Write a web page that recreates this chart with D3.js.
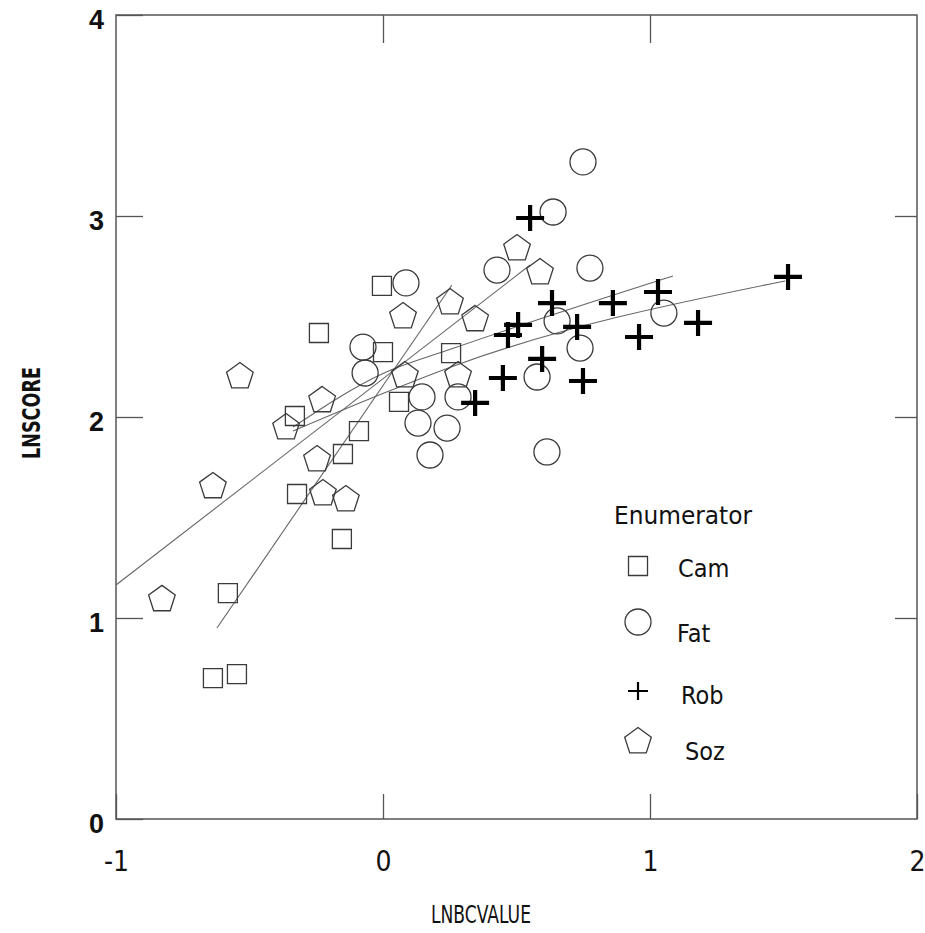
<html>
<head>
<title>LNSCORE vs LNBCVALUE</title>
<script src="https://d3js.org/d3.v7.min.js" charset="utf-8"></script>
<style>
body { margin: 0; background: white; }
svg text { fill: #111; }
.ytick text { font-family: "Liberation Sans", Arial, sans-serif; font-weight: bold; font-size: 27px; }
.xtick text { font-family: "DejaVu Sans Condensed", sans-serif; font-size: 28px; }
</style>
</head>
<body>
<script>
// enumerator groups: x = LNBCVALUE, y = LNSCORE
var camX = [-0.004, -0.240, 0.000, 0.255, 0.060, -0.330, -0.090, -0.150, -0.322, -0.154, -0.581, -0.637, -0.547];
var camY = [2.652, 2.418, 2.323, 2.318, 2.075, 2.005, 1.930, 1.816, 1.617, 1.393, 1.124, 0.701, 0.721];

var fatX = [0.749, 0.637, 0.086, 0.427, 0.775, 1.052, 0.652, 0.738, 0.577, 0.614, -0.075, -0.067, 0.146, 0.281, 0.131, 0.240, 0.176];
var fatY = [3.269, 3.020, 2.667, 2.731, 2.741, 2.517, 2.478, 2.343, 2.199, 1.826, 2.348, 2.219, 2.100, 2.100, 1.970, 1.945, 1.811];

var robX = [0.551, 0.633, 0.506, 0.468, 0.861, 1.030, 0.727, 0.596, 0.449, 0.749, 0.345, 0.959, 1.180, 1.517];
var robY = [2.990, 2.567, 2.458, 2.408, 2.567, 2.622, 2.448, 2.289, 2.194, 2.179, 2.070, 2.398, 2.468, 2.697];

var sozX = [-0.536, -0.228, -0.363, -0.247, -0.225, -0.139, -0.637, -0.828, 0.075, 0.345, 0.251, 0.082, 0.281, 0.502, 0.588];
var sozY = [2.209, 2.090, 1.955, 1.796, 1.627, 1.597, 1.662, 1.100, 2.507, 2.493, 2.577, 2.214, 2.214, 2.846, 2.726];

// fitted lines per enumerator
var camFitX = [-0.622, 0.258];
var camFitY = [0.950, 2.657];
var sozFitX = [-1.0, 0.551];
var sozFitY = [1.164, 2.756];
var fatFitX = [-0.337, 0.004, 0.255, 1.086];
var fatFitY = [1.950, 2.219, 2.338, 2.701];
var robFitX = [-0.337, 0.004, 0.255, 1.506];
var robFitY = [1.930, 2.119, 2.249, 2.677];

var xTicks = [-1, 0, 1, 2];
var yTicks = [0, 1, 2, 3, 4];
var legendNames = ["Cam", "Fat", "Rob", "Soz"];

var width = 925;
var height = 933;

var x = d3.scaleLinear().domain([-1, 2]).range([116, 917]);
var y = d3.scaleLinear().domain([0, 4]).range([819, 15]);

var svg = d3.select("body")
  .append("svg")
  .attr("width", width)
  .attr("height", height);

var markColor = "#3a3a3a";

// marker shapes
function pentagon(r) {
  var pts = d3.range(5).map(function(i) {
    var a = -Math.PI / 2 + i * 2 * Math.PI / 5;
    return [r * Math.cos(a), r * Math.sin(a) + 1.5];
  });
  return "M" + pts.join("L") + "Z";
}
var squarePath = d3.symbol().type(d3.symbolSquare).size(19 * 19)();
var circlePath = d3.symbol().type(d3.symbolCircle).size(Math.PI * 13 * 13)();
var crossPath = "M-14,0H14M0,-13V13";
var smallCross = "M-10,0H10M0,-9V9";
var pentPath = pentagon(14);

function zip(xs, ys) { return xs.map(function(v, i) { return [v, ys[i]]; }); }

// frame
svg.append("rect")
  .attr("x", x(-1)).attr("y", y(4))
  .attr("width", x(2) - x(-1)).attr("height", y(0) - y(4))
  .attr("fill", "none")
  .attr("stroke", "#555")
  .attr("stroke-width", 1.5);

// axes with inward ticks
var yAxis = svg.append("g").attr("class", "ytick")
  .attr("transform", "translate(" + x(-1) + ",5)")
  .call(d3.axisLeft(y).tickValues(yTicks).tickSize(-27).tickSizeOuter(0).tickPadding(12).tickFormat(d3.format("d")));
yAxis.selectAll("line").attr("transform", "translate(0,-5)");
yAxis.select(".domain").remove();

var xAxis = svg.append("g").attr("class", "xtick")
  .attr("transform", "translate(0," + y(0) + ")")
  .call(d3.axisBottom(x).tickValues(xTicks).tickSize(-25).tickSizeOuter(0).tickPadding(32)
    .tickFormat(function(d) { return String(d); }));
xAxis.select(".domain").remove();

svg.append("g")
  .attr("transform", "translate(" + x(2) + ",0)")
  .call(d3.axisRight(y).tickValues([1, 2, 3]).tickSize(-22).tickSizeOuter(0).tickFormat(""))
  .select(".domain").remove();

svg.append("g")
  .attr("transform", "translate(0," + y(4) + ")")
  .call(d3.axisTop(x).tickValues([0, 1]).tickSize(-28).tickSizeOuter(0).tickFormat(""))
  .select(".domain").remove();

svg.selectAll(".tick line").attr("stroke", "#555").attr("stroke-width", 1.3);
svg.selectAll(".tick text").attr("fill", "#111");

// axis titles
svg.append("text")
  .attr("x", 481).attr("y", 923)
  .attr("text-anchor", "middle")
  .attr("textLength", 100).attr("lengthAdjust", "spacingAndGlyphs")
  .style("font-family", "'DejaVu Sans Condensed', sans-serif")
  .style("font-size", "24px")
  .text("LNBCVALUE");

svg.append("text")
  .attr("transform", "translate(40,413) rotate(-90)")
  .attr("text-anchor", "middle")
  .attr("textLength", 92).attr("lengthAdjust", "spacingAndGlyphs")
  .style("font-family", "'DejaVu Sans Condensed', sans-serif")
  .style("font-weight", "bold")
  .style("font-size", "25px")
  .text("LNSCORE");

// fitted lines
var line = d3.line()
  .x(function(d) { return x(d[0]); })
  .y(function(d) { return y(d[1]); })
  .curve(d3.curveMonotoneX);

var fits = [zip(camFitX, camFitY), zip(sozFitX, sozFitY), zip(fatFitX, fatFitY), zip(robFitX, robFitY)];
svg.append("g").selectAll("path")
  .data(fits)
  .enter()
  .append("path")
  .attr("d", line)
  .attr("fill", "none")
  .attr("stroke", "#666")
  .attr("stroke-width", 1.1);

// points
function drawGroup(xs, ys, path, stroke, sw) {
  svg.append("g").selectAll("path")
    .data(zip(xs, ys))
    .enter()
    .append("path")
    .attr("d", path)
    .attr("transform", function(d) { return "translate(" + x(d[0]) + "," + y(d[1]) + ")"; })
    .attr("fill", "none")
    .attr("stroke", stroke)
    .attr("stroke-width", sw);
}
drawGroup(camX, camY, squarePath, markColor, 1.3);
drawGroup(fatX, fatY, circlePath, markColor, 1.3);
drawGroup(sozX, sozY, pentPath, markColor, 1.3);
drawGroup(robX, robY, crossPath, "#000", 4.2);

// legend
var legendFont = "'DejaVu Sans Condensed', sans-serif";
svg.append("text")
  .attr("x", 614).attr("y", 524)
  .attr("textLength", 138).attr("lengthAdjust", "spacingAndGlyphs")
  .style("font-family", legendFont)
  .style("font-size", "25px")
  .text("Enumerator");

var legendShapes = [squarePath, circlePath, smallCross, pentPath];
var legendSymY = [566, 622, 691, 740];
var legendTextX = [678, 677, 681, 685];
var legendTextY = [577, 642, 704, 760];
var legend = svg.append("g");
legend.selectAll("path")
  .data(legendNames)
  .enter()
  .append("path")
  .attr("d", function(d, i) { return legendShapes[i]; })
  .attr("transform", function(d, i) { return "translate(638," + legendSymY[i] + ")"; })
  .attr("fill", "none")
  .attr("stroke", function(d, i) { return i == 2 ? "#000" : markColor; })
  .attr("stroke-width", function(d, i) { return i == 2 ? 2.2 : 1.3; });
legend.selectAll("text")
  .data(legendNames)
  .enter()
  .append("text")
  .attr("x", function(d, i) { return legendTextX[i]; })
  .attr("y", function(d, i) { return legendTextY[i]; })
  .style("font-family", legendFont)
  .style("font-size", "25px")
  .text(function(d) { return d; });
</script>
</body>
</html>
